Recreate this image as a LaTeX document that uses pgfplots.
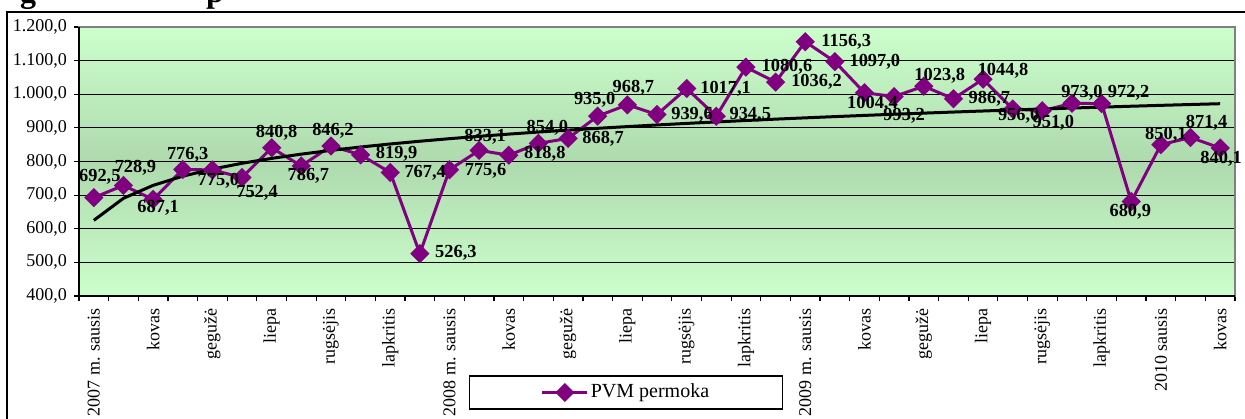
\documentclass[border=0pt]{standalone}
\usepackage{fontspec}
\setmainfont{Liberation Serif}
\usepackage{pgfplots}
\usepackage{pgfplotstable}
\pgfplotsset{compat=1.18}

\definecolor{pvm}{RGB}{128,0,128}
\definecolor{bglight}{RGB}{204,255,204}
\definecolor{bgdark}{RGB}{174,218,174}
\definecolor{boxgray}{RGB}{128,128,128}

% monthly values, label offsets (pt) from the point
\pgfplotstableread{
i val dx dy
0 692.5 3 10.5
1 728.9 6 9
2 687.1 2.5 -4
3 776.3 2.5 7.5
4 775.0 3 -5.5
5 752.4 7.5 -7.75
6 840.8 2.5 7.5
7 786.7 3.5 -5
8 846.2 1 7.5
9 819.9 18 0.5
10 767.4 17.5 0
11 526.3 18 0.5
12 775.6 18 -0.5
13 833.1 3 7
14 818.8 18 0.5
15 854.0 4.5 8
16 868.7 17.5 0
17 935.0 -1.5 8
18 968.7 3 8.5
19 939.6 17.5 0
20 1017.1 19.5 0
21 934.5 17 0.5
22 1080.6 20.5 0
23 1036.2 20.5 0
24 1156.3 20.5 0
25 1097.0 20 0
26 1004.4 4 -5.5
27 993.2 5 -9.5
28 1023.8 8 5
29 986.7 18 0
30 1044.8 10 4
31 956.0 3 -3.5
32 951.0 5.5 -6
33 973.0 5 5.5
34 972.2 13.5 5.5
35 680.9 -0.5 -5
36 850.1 2.5 5
37 871.4 8 7.5
38 840.1 0.5 -5.5
}\pvmdata

% trend line
\pgfplotstableread{
i trend
0 625.0
1 690.6
2 729.0
3 756.3
4 777.4
5 794.7
6 809.3
7 821.9
8 833.1
9 843.1
10 852.1
11 860.3
12 867.9
13 874.9
14 881.5
15 887.6
16 893.3
17 898.7
18 903.8
19 908.7
20 913.3
21 917.7
22 921.9
23 926.0
24 929.8
25 933.5
26 937.1
27 940.6
28 943.9
29 947.1
30 950.2
31 953.2
32 956.1
33 959.0
34 961.7
35 964.4
36 967.0
37 969.5
38 971.9
}\trenddata

\begin{document}
\begin{tikzpicture}
\begin{axis}[
  at={(39.5pt,61pt)}, anchor=south west,
  scale only axis, width=578pt, height=134.5pt,
  xmin=-0.5, xmax=38.5, ymin=400, ymax=1200,
  clip=false,
  /pgf/number format/assume math mode=true,
  font=\fontsize{9}{10}\selectfont,
  axis background/.style={top color=bglight, bottom color=bglight, middle color=bgdark},
  axis line style={boxgray, line width=1pt},
  ytick={400,500,...,1200},
  scaled y ticks=false,
  ymajorgrids,
  major grid style={black, line width=0.5pt},
  yticklabel style={/pgf/number format/fixed, /pgf/number format/fixed zerofill,
    /pgf/number format/precision=1, /pgf/number format/use comma},
  xtick={0,2,...,38},
  xticklabels={2007 m. sausis,kovas,gegužė,liepa,rugsėjis,lapkritis,
    2008 m. sausis,kovas,gegužė,liepa,rugsėjis,lapkritis,
    2009 m. sausis,kovas,gegužė,liepa,rugsėjis,lapkritis,
    2010 sausis,kovas},
  xticklabel style={rotate=90, anchor=east},
  minor xtick={-0.5,0.5,...,38.5},
  every major x tick/.append style={draw=none},
  tick align=outside, tick pos=left,
  major tick length=2.5pt, minor tick length=2.5pt,
  tick style={black, line width=0.6pt},
  legend style={at={(0.4732,-0.3587)}, anchor=center, draw=black, line width=0.6pt,
    inner xsep=35.5pt, inner ysep=3pt, nodes={inner sep=1pt},
    font=\fontsize{10}{11}\selectfont},
  legend image code/.code={
    \draw[mark repeat=2, mark phase=2, #1] plot coordinates {(0pt,0pt) (11.25pt,0pt) (22.5pt,0pt)};
  },
  after end axis/.code={
    \draw[black, line width=0.75pt] (rel axis cs:0,1) -- (rel axis cs:0,0) -- (rel axis cs:1,0);
  },
]
\addplot[pvm, line width=1.5pt, mark=square*, mark size=2.65pt,
  mark options={solid, fill=pvm, rotate=45}] table[x=i, y=val] {\pvmdata};
\addlegendentry{PVM permoka}
% data labels
\addplot[draw=none, mark=none, forget plot,
  nodes near coords={\pgfmathprintnumber[fixed, fixed zerofill, precision=1, use comma, 1000 sep={}]{\pgfplotspointmeta}},
  visualization depends on={\thisrow{dx} \as \ldx},
  visualization depends on={\thisrow{dy} \as \ldy},
  every node near coord/.append style={anchor=center, xshift=\ldx pt, yshift=\ldy pt,
    text=black, inner sep=0pt, font=\bfseries\fontsize{9.2}{10}\selectfont},
] table[x=i, y=val] {\pvmdata};
\addplot[black, line width=1.5pt, no markers, forget plot] table[x=i, y=trend] {\trenddata};
\end{axis}
\draw[black, line width=0.75pt] (3.5pt,-10pt) -- (3.5pt,203pt) -- (640pt,203pt);
\node[font=\bfseries\fontsize{16}{18}\selectfont, anchor=base, inner sep=0pt] at (14pt,207.5pt) {g};
\node[font=\bfseries\fontsize{16}{18}\selectfont, anchor=base, inner sep=0pt] at (107.5pt,207.5pt) {p};
\pgfresetboundingbox
\path[use as bounding box] (0,0) rectangle (622.5pt,209pt);
\end{tikzpicture}
\end{document}
